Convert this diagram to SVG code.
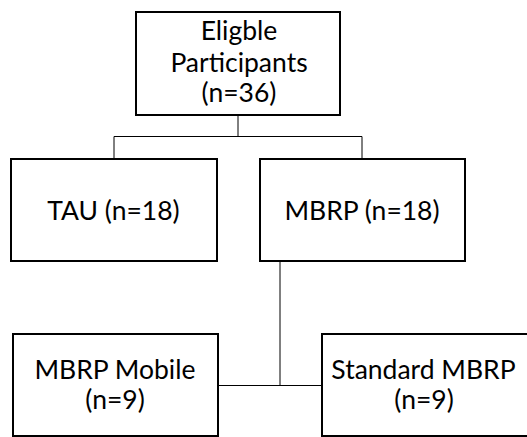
<svg xmlns="http://www.w3.org/2000/svg" width="527" height="437" viewBox="0 0 527 437">
  <style>
    .box { fill: #ffffff; stroke: #000000; stroke-width: 2; }
    .lbl { font-family: Lato, "Open Sans", "Liberation Sans", sans-serif; font-size: 26.5px; fill: #000000; text-anchor: middle; }
    .conn { fill: none; stroke: #000000; stroke-width: 1; }
  </style>
  <rect width="527" height="437" fill="#ffffff"/>
  <g id="connectors">
    <path class="conn" d="M238 116 V136.5 M114 136.5 H362 M114 136.5 V158 M362 136.5 V158"/>
    <path class="conn" d="M280 262 V385.5 M219 385.5 H321"/>
  </g>
  <g id="eligible">
    <rect class="box" x="136" y="12" width="204" height="103"/>
    <text class="lbl" x="239" y="40">Eligble</text>
    <text class="lbl" x="239" y="71.5">Participants</text>
    <text class="lbl" x="239" y="102">(n=36)</text>
  </g>
  <g id="tau">
    <rect class="box" x="11" y="159" width="206" height="102"/>
    <text class="lbl" x="113.5" y="219.5">TAU (n=18)</text>
  </g>
  <g id="mbrp">
    <rect class="box" x="260" y="159" width="205" height="102"/>
    <text class="lbl" x="362" y="219.5">MBRP (n=18)</text>
  </g>
  <g id="mbrp-mobile">
    <rect class="box" x="13" y="334" width="205" height="102"/>
    <text class="lbl" x="115" y="378.5">MBRP Mobile</text>
    <text class="lbl" x="115" y="409">(n=9)</text>
  </g>
  <g id="standard-mbrp">
    <rect class="box" x="322" y="334" width="206" height="102"/>
    <text class="lbl" x="423.5" y="378.5">Standard MBRP</text>
    <text class="lbl" x="424" y="409">(n=9)</text>
  </g>
</svg>
